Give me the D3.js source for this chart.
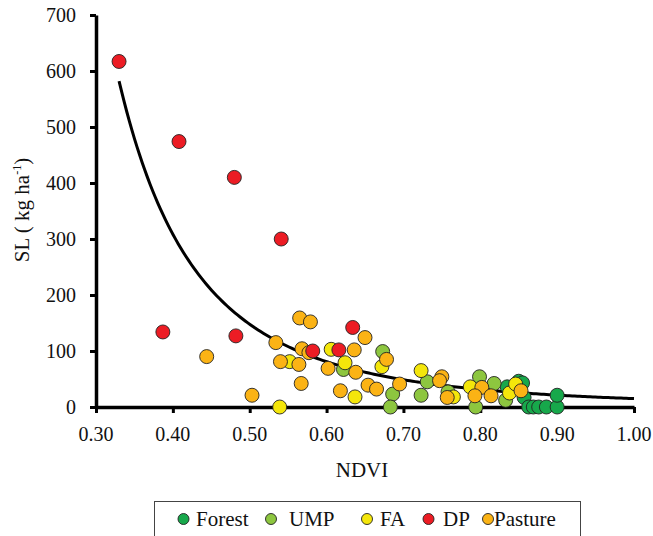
<!DOCTYPE html>
<html>
<head>
<meta charset="utf-8">
<script src="https://cdn.jsdelivr.net/npm/d3@7"></script>
</head>
<body style="margin:0;padding:0;background:#fff">
<svg id="chart" width="653" height="536" font-family="Liberation Serif"></svg>
<script>
// ---- data ----
const categories = ["Forest", "UMP", "FA", "DP", "Pasture"];
const colors = ["#17a84b", "#8dc63f", "#f4e60b", "#ec1c24", "#fbb315"];

const forestNDVI = [0.835, 0.850, 0.855, 0.857, 0.863, 0.869, 0.876, 0.886, 0.900, 0.900];
const forestSL   = [36, 46, 43, 17, 0, 0, 0, 0, 0, 21];

const umpNDVI = [0.622, 0.673, 0.686, 0.683, 0.731, 0.723, 0.758, 0.799, 0.794, 0.818, 0.833];
const umpSL   = [67, 99, 23, 0, 45, 21, 27, 54, 0, 42, 12];

const faNDVI = [0.539, 0.552, 0.606, 0.624, 0.637, 0.672, 0.723, 0.765, 0.787, 0.838, 0.846];
const faSL   = [0, 81, 103, 79, 18, 72, 65, 18, 36, 25, 41];

const dpNDVI = [0.330, 0.408, 0.480, 0.541, 0.387, 0.482, 0.582, 0.616, 0.634];
const dpSL   = [617, 474, 410, 300, 134, 127, 100, 102, 142];

const pastureNDVI = [0.444, 0.503, 0.534, 0.565, 0.579, 0.568, 0.540, 0.564, 0.567, 0.577,
                     0.650, 0.636, 0.602, 0.638, 0.618, 0.654, 0.665, 0.678, 0.695, 0.750,
                     0.747, 0.757, 0.802, 0.793, 0.814, 0.853];
const pastureSL   = [90, 21, 115, 159, 152, 104, 81, 76, 42, 97,
                     124, 102, 69, 62, 29, 39, 32, 85, 41, 54,
                     47, 17, 35, 20, 20, 29];

// power-law trend line SL = a * NDVI^b
const trendA = 15;
const trendB = -3.3;
const trendFrom = 0.33, trendTo = 1.00;

const xTicks = [0.30, 0.40, 0.50, 0.60, 0.70, 0.80, 0.90, 1.00];
const yTicks = [0, 100, 200, 300, 400, 500, 600, 700];

// ---- chart ----
const svg = d3.select("#chart");
const x = d3.scaleLinear().domain([0.30, 1.00]).range([96, 634]);
const y = d3.scaleLinear().domain([0, 700]).range([407, 15]);

function serifText(sel, size) {
  return sel.attr("font-family", "Liberation Serif").attr("font-size", size)
            .style("font-family", "Liberation Serif").attr("fill", "#111");
}

// trend
const trendData = d3.range(0, 201).map(i => {
  const v = trendFrom + (trendTo - trendFrom) * i / 200;
  return [v, trendA * Math.pow(v, trendB)];
});
svg.append("path")
  .datum(trendData)
  .attr("fill", "none")
  .attr("stroke", "#000")
  .attr("stroke-width", 3)
  .attr("d", d3.line().x(d => x(d[0])).y(d => y(d[1])));

// axes: lines via d3 axis, labels as plain texts
const xAxis = d3.axisBottom(x).tickValues(xTicks).tickFormat("").tickSize(6).tickSizeOuter(0);
const yAxis = d3.axisLeft(y).tickValues(yTicks).tickFormat("").tickSize(6).tickSizeOuter(0);
const gx = svg.append("g").attr("transform", `translate(0,${y(0)})`).call(xAxis);
const gy = svg.append("g").attr("transform", `translate(${x(0.30)},0)`).call(yAxis);
[gx, gy].forEach(g => {
  g.select(".domain").attr("stroke", "#000").attr("stroke-width", 3.5);
  g.selectAll(".tick line").attr("stroke", "#000").attr("stroke-width", 3);
  g.selectAll(".tick text").remove();
});
svg.append("g").selectAll("text").data(xTicks).join("text")
  .attr("x", d => x(d)).attr("y", y(0) + 34)
  .attr("text-anchor", "middle")
  .call(serifText, 20)
  .text(d => d3.format(".2f")(d));
svg.append("g").selectAll("text").data(yTicks).join("text")
  .attr("x", x(0.30) - 20).attr("y", d => y(d) + 7)
  .attr("text-anchor", "end")
  .call(serifText, 20)
  .text(d => d3.format("d")(d));

// points (drawn in series order, DP on top)
const series = [
  { name: "Forest", ndvi: forestNDVI, sl: forestSL, color: colors[0] },
  { name: "UMP", ndvi: umpNDVI, sl: umpSL, color: colors[1] },
  { name: "FA", ndvi: faNDVI, sl: faSL, color: colors[2] },
  { name: "Pasture", ndvi: pastureNDVI, sl: pastureSL, color: colors[4] },
  { name: "DP", ndvi: dpNDVI, sl: dpSL, color: colors[3] }
];
series.forEach(s => {
  const pts = s.ndvi.map((v, i) => [v, s.sl[i]]);
  svg.append("g").selectAll("circle").data(pts).join("circle")
    .attr("cx", d => x(d[0]))
    .attr("cy", d => y(d[1]))
    .attr("r", 7)
    .attr("fill", s.color)
    .attr("stroke", "#222")
    .attr("stroke-width", 0.9);
});

// axis titles
svg.append("text")
  .attr("x", 362).attr("y", 477)
  .attr("text-anchor", "middle")
  .call(serifText, 21)
  .text("NDVI");

const yt = svg.append("text")
  .attr("transform", "translate(29,210) rotate(-90)")
  .attr("text-anchor", "middle")
  .call(serifText, 21);
yt.append("tspan").text("SL ( kg ha");
yt.append("tspan").attr("dy", -8).attr("font-size", 12).text("-1");
yt.append("tspan").attr("dy", 8).text(")");

// legend
const lg = svg.append("g");
lg.append("rect")
  .attr("x", 154.5).attr("y", 501.5).attr("width", 426).attr("height", 40)
  .attr("fill", "#fff").attr("stroke", "#444").attr("stroke-width", 1);
const legendMarkerX = [183.5, 271, 367, 428.5, 488];
const legendTextX = [196, 289, 380, 443, 494];
categories.forEach((c, i) => {
  lg.append("circle").attr("cx", legendMarkerX[i]).attr("cy", 519).attr("r", 5.5)
    .attr("fill", colors[i]).attr("stroke", "#222").attr("stroke-width", 0.9);
  lg.append("text").attr("x", legendTextX[i]).attr("y", 526)
    .call(serifText, 21).text(c);
});
</script>
</body>
</html>
